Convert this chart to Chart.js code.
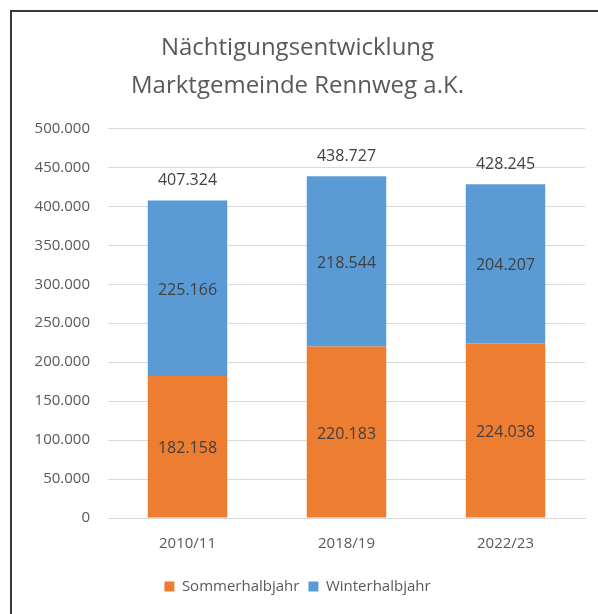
<!DOCTYPE html>
<html>
<head>
<meta charset="utf-8">
<script src="https://cdn.jsdelivr.net/npm/chart.js@4"></script>
<style>
  html, body { margin: 0; padding: 0; background: #fff; }
  #wrap { position: relative; width: 598px; height: 614px; overflow: hidden; }
  #frame {
    position: absolute; left: 10px; top: 10px; width: 620px; height: 640px;
    border-left: 2px solid #3a3a3a; border-top: 2px solid #3a3a3a;
    pointer-events: none;
  }
  canvas { position: absolute; left: 0; top: 0; }
</style>
</head>
<body>
<div id="wrap">
  <canvas id="chart" width="598" height="614"></canvas>
  <div id="frame"></div>
</div>
<script>
// ========================================
// DATEN
// ========================================
const categories = ["2010/11", "2018/19", "2022/23"];
const sommerValues = [182158, 220183, 224038];
const winterValues = [225166, 218544, 204207];
const seriesNames = ["Sommerhalbjahr", "Winterhalbjahr"];
const titleLines = ["Nächtigungsentwicklung", "Marktgemeinde Rennweg a.K."];

const FONT = "'Open Sans', 'Noto Sans', sans-serif";
const TEXT_COLOR = "#595959";
const LABEL_COLOR = "#404040";

// Zahl im deutschen Format (Tausenderpunkt)
function formatNumber(v) {
  return String(Math.round(v)).replace(/\B(?=(\d{3})+(?!\d))/g, ".");
}

// Beschriftungen in den Segmenten und Summen über den Säulen
const labelPlugin = {
  id: "barLabels",
  afterDatasetsDraw(chart) {
    const ctx = chart.ctx;
    const yScale = chart.scales.y;
    ctx.save();
    ctx.font = "16px " + FONT;
    ctx.fillStyle = LABEL_COLOR;
    ctx.textAlign = "center";
    ctx.textBaseline = "middle";
    chart.data.datasets.forEach((ds, di) => {
      const meta = chart.getDatasetMeta(di);
      meta.data.forEach((bar, i) => {
        const mid = (bar.y + bar.base) / 2;
        ctx.fillText(formatNumber(ds.data[i]), bar.x, mid + 2);
      });
    });
    const lastMeta = chart.getDatasetMeta(chart.data.datasets.length - 1);
    categories.forEach((c, i) => {
      const total = sommerValues[i] + winterValues[i];
      const x = lastMeta.data[i].x;
      ctx.fillText(formatNumber(total), x, yScale.getPixelForValue(total) - 20);
    });
    ctx.restore();
  },
};

new Chart(document.getElementById("chart"), {
  type: "bar",
  data: {
    labels: categories,
    datasets: [
      {
        label: seriesNames[0],
        data: sommerValues,
        backgroundColor: "#ED7D31",
        barPercentage: 0.5,
        categoryPercentage: 1,
      },
      {
        label: seriesNames[1],
        data: winterValues,
        backgroundColor: "#5B9BD5",
        barPercentage: 0.5,
        categoryPercentage: 1,
      },
    ],
  },
  options: {
    responsive: false,
    animation: false,
    layout: { padding: { left: 10, right: 13, top: 0, bottom: 10 } },
    plugins: {
      title: {
        display: true,
        text: titleLines,
        color: TEXT_COLOR,
        font: { family: FONT, size: 24, weight: "normal", lineHeight: 1.55 },
        padding: { top: 30, bottom: 24 },
      },
      legend: {
        position: "bottom",
        labels: {
          color: TEXT_COLOR,
          font: { family: FONT, size: 15 },
          boxWidth: 10,
          boxHeight: 10,
          padding: 9,
        },
      },
      tooltip: { enabled: false },
    },
    scales: {
      x: {
        stacked: true,
        grid: { display: false, drawTicks: false },
        border: { color: "#D9D9D9" },
        ticks: { color: TEXT_COLOR, font: { family: FONT, size: 15 }, padding: 17 },
      },
      y: {
        stacked: true,
        min: 0,
        max: 500000,
        afterFit(scale) { scale.width = 98; },
        grid: { color: "#D9D9D9", drawTicks: false },
        border: { display: false },
        ticks: {
          stepSize: 50000,
          color: TEXT_COLOR,
          font: { family: FONT, size: 15 },
          padding: 18,
          callback: (v) => formatNumber(v),
        },
      },
    },
  },
  plugins: [labelPlugin],
});
</script>
</body>
</html>
